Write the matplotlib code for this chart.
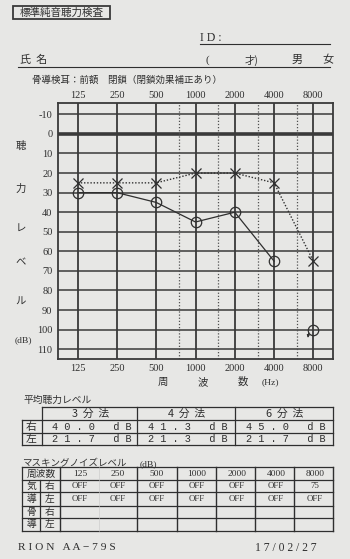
import matplotlib
matplotlib.use('Agg')
import matplotlib.pyplot as plt
from matplotlib.lines import Line2D
from matplotlib.patches import Rectangle
from matplotlib.ticker import NullLocator

# ---------------- data ----------------
freqs = [125, 250, 500, 1000, 2000, 4000, 8000]
freq_labels = ['125', '250', '500', '1000', '2000', '4000', '8000']
half_freqs = [750, 1500, 3000, 6000]
db_ticks = [-10, 0, 10, 20, 30, 40, 50, 60, 70, 80, 90, 100, 110]

right_air = [30, 30, 35, 45, 40, 65]          # 125..4000 Hz (O, solid)
right_scaleout_freq = 8000                    # no response at max level
right_scaleout_db = 100
left_air = [25, 25, 25, 20, 20, 25, 65]       # 125..8000 Hz (X, dotted)

avg_methods = ['3  分  法', '4  分  法', '6  分  法']
avg_right = [40.0, 41.3, 45.0]
avg_left = [21.7, 21.3, 21.7]

mask_air_right = ['OFF', 'OFF', 'OFF', 'OFF', 'OFF', 'OFF', '75']
mask_air_left = ['OFF', 'OFF', 'OFF', 'OFF', 'OFF', 'OFF', 'OFF']

# ---------------- style ----------------
W, H = 350, 559
BG = '#e7e7e5'
INK = '#2f2f2f'
JP = ['Noto Sans CJK JP', 'DejaVu Sans']
SERIF = ['Liberation Serif', 'DejaVu Serif']
MONO = ['Liberation Mono', 'DejaVu Sans Mono']
plt.rcParams['font.family'] = JP

fig = plt.figure(figsize=(W / 100, H / 100), dpi=100)
fig.patch.set_facecolor(BG)


def fx(x):
    return x / W


def fy(y):
    return 1 - y / H


def txt(x, y, s, size=7.5, family=JP, ha='left', va='center', **kw):
    fig.text(fx(x), fy(y), s, fontsize=size, family=family, ha=ha, va=va,
             color=INK, **kw)


def line(x1, y1, x2, y2, lw=0.8, color=INK, **kw):
    fig.add_artist(Line2D([fx(x1), fx(x2)], [fy(y1), fy(y2)],
                          transform=fig.transFigure, lw=lw, color=color, **kw))


# ---------------- header ----------------
fig.add_artist(Rectangle((fx(13), fy(19)), (110 - 13) / W, 13 / H,
                         transform=fig.transFigure, fill=False,
                         lw=1.3, edgecolor='#3a3a3a'))
txt(61.5, 12.5, '標準純音聴力検査', size=7.6, ha='center')

txt(200, 38, 'I D :', size=8.5, family=SERIF)
line(200, 44, 330, 44, lw=0.8)
txt(20, 60, '氏  名', size=8)
line(18, 67, 330, 67, lw=0.8)
txt(205, 60, '(', size=8, family=SERIF)
txt(245, 60, '才)', size=7.5)
txt(292, 60, '男', size=8)
txt(322, 60, '女', size=8)
txt(32, 80, '骨導検耳：前額　閉鎖（閉鎖効果補正あり）', size=6.8)

# ---------------- audiogram ----------------
ax = fig.add_axes([fx(58), fy(359), (333 - 58) / W, (359 - 103) / H])
ax.set_facecolor(BG)
ax.set_xscale('log', base=2)
ax.set_xlim(125 / 2 ** 0.5, 8000 * 2 ** 0.5)
ax.set_ylim(115, -15.8)
ax.xaxis.set_minor_locator(NullLocator())
ax.set_xticks([])
ax.set_yticks(db_ticks)
ax.set_yticklabels([str(d) for d in db_ticks], family=SERIF, fontsize=7.5,
                   color=INK)
ax.tick_params(axis='y', length=0, pad=4)
for sp in ax.spines.values():
    sp.set_linewidth(1.3)
    sp.set_color('#3a3a3a')

for d in db_ticks:
    ax.axhline(d, color='#3a3a3a', lw=2.6 if d == 0 else 1.1, zorder=1)
for f in freqs:
    ax.axvline(f, color='#3a3a3a', lw=1.3, zorder=1)
for f in half_freqs:
    ax.axvline(f, color='#505050', lw=0.9, ls=(0, (1, 1.5)), zorder=1)

xt = ax.get_xaxis_transform()
for f, lab in zip(freqs, freq_labels):
    ax.text(f, 1.031, lab, transform=xt, ha='center', va='center',
            family=SERIF, fontsize=7.5, color=INK)
    ax.text(f, -0.039, lab, transform=xt, ha='center', va='center',
            family=SERIF, fontsize=7.5, color=INK)

# left ear (X, dotted)
ax.plot(freqs, left_air, ls=(0, (1, 1.3)), lw=1.0, color=INK, marker='x',
        ms=7.5, mew=0.9, zorder=3)
# right ear (O, solid)
ax.plot(freqs[:len(right_air)], right_air, '-', lw=0.9, color=INK,
        marker='o', mfc='none', ms=7.5, mew=0.9, zorder=3)
ax.plot([right_scaleout_freq], [right_scaleout_db], marker='o', mfc='none',
        ms=7.5, mew=0.9, color=INK, zorder=3)
ax.annotate('', xy=(right_scaleout_freq / 2 ** 0.14, right_scaleout_db + 4.2),
            xytext=(right_scaleout_freq / 2 ** 0.12, right_scaleout_db + 1.5),
            arrowprops=dict(arrowstyle='-|>', lw=0.7, color=INK,
                            mutation_scale=4, shrinkA=0, shrinkB=0))

# vertical axis label
for y, s in [(146, '聴'), (189, '力'), (228, 'レ'), (262, 'ベ'), (302, 'ル')]:
    txt(21, y, s, size=7.5, ha='center')
txt(23, 340, '(dB)', size=6.8, family=SERIF, ha='center')
txt(163, 382, '周', size=7.5, ha='center')
txt(203, 382, '波', size=7.5, ha='center')
txt(243, 382, '数', size=7.5, ha='center')
txt(262, 382, '(Hz)', size=6.8, family=SERIF)

# ---------------- average hearing level table ----------------
txt(24, 400, '平均聴力レベル', size=7)
ty = [407, 420, 433, 445]
tx = [22, 41.7, 137, 235, 333]
for y in ty:
    line(22 if y != ty[0] else 41.7, y, 333, y, lw=0.9)
line(22, 420, 22, 445, lw=0.9)
for x in tx[1:]:
    line(x, 407, x, 445, lw=0.9)
centers = [(tx[i] + tx[i + 1]) / 2 for i in range(1, 4)]
for c, m in zip(centers, avg_methods):
    txt(c + 1, 413.5, m, size=7.8, ha='center')
txt(31.5, 426.5, '右', size=7.8, ha='center')
txt(31.5, 439, '左', size=7.8, ha='center')


def spaced(v):
    return ' '.join(f'{v:.1f}') + '   d B'


for c, vr, vl in zip(centers, avg_right, avg_left):
    txt(c + 2, 426.5, spaced(vr), size=7.4, family=MONO, ha='center')
    txt(c + 2, 439, spaced(vl), size=7.4, family=MONO, ha='center')

# ---------------- masking table ----------------
txt(22, 464, 'マスキングノイズレベル', size=6.8)
txt(140, 464, '(dB)', size=6.8, family=SERIF)
my = [467, 480, 492, 506, 518, 531]
mx = [60, 137, 177, 216, 255, 294, 333]
for y in my:
    line(22, y, 333, y, lw=0.9)
line(22, 467, 22, 531, lw=0.9)
line(40, 480, 40, 531, lw=0.9)
for x in mx:
    line(x, 467, x, 531, lw=1.0)
line(99, 467, 99, 531, lw=0.4, color='#c8c8c8')
mcols = [80, 118, 157, 197, 237, 276, 315]
txt(41, 473.5, '周波数', size=7, ha='center')
for c, lab in zip(mcols, freq_labels):
    txt(c, 473.5, lab, size=6.8, family=SERIF, ha='center')
for c, a, b in zip(mcols, mask_air_right, mask_air_left):
    txt(c, 486, a, size=6.3, family=SERIF, ha='center')
    txt(c, 499, b, size=6.3, family=SERIF, ha='center')
for y, a, b in [(486, '気', '右'), (499, '導', '左'), (512, '骨', '右'),
                (524.5, '導', '左')]:
    txt(31, y, a, size=7, ha='center')
    txt(50, y, b, size=7, ha='center')

# ---------------- footer ----------------
txt(18, 548, 'R I O N   A A − 7 9 S', size=8.2, family=SERIF)
txt(255, 548, '1 7 / 0 2 / 2 7', size=8.4, family=SERIF)

fig.savefig('out.png', dpi=100, facecolor=BG)
